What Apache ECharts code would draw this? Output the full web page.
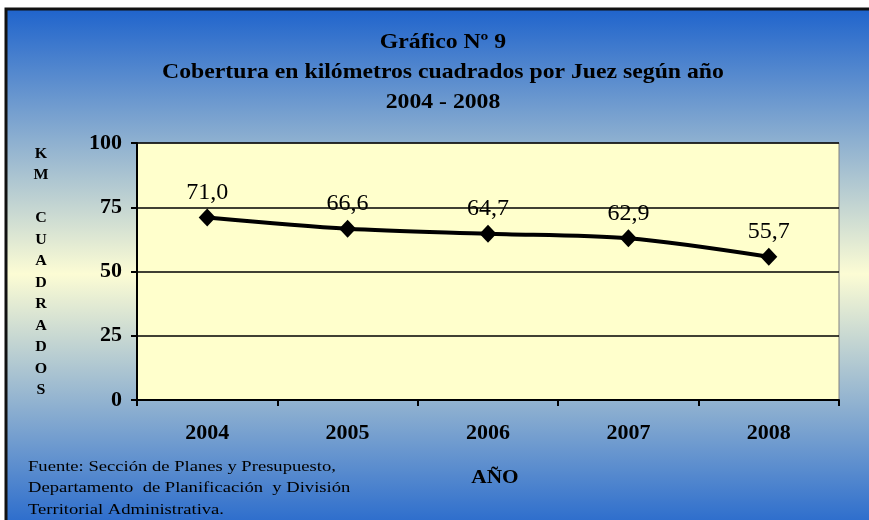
<!DOCTYPE html>
<html>
<head>
<meta charset="utf-8">
<title>Gráfico Nº 9</title>
<script src="https://cdn.jsdelivr.net/npm/echarts@6/dist/echarts.min.js"></script>
<style>
  html, body { margin: 0; padding: 0; background: #fff; }
  #chart { width: 869px; height: 520px; }
</style>
</head>
<body>
<div id="chart"></div>
<script>
const years = ['2004', '2005', '2006', '2007', '2008']
const kmPorJuez = [71.0, 66.6, 64.7, 62.9, 55.7]
const yTicks = { min: 0, max: 100, interval: 25 }

const titleLines = [
  'Gráfico Nº 9',
  'Cobertura en kilómetros cuadrados por Juez según año',
  '2004 - 2008',
]
const yName = ['K', 'M', '', 'C', 'U', 'A', 'D', 'R', 'A', 'D', 'O', 'S']
const xName = 'AÑO'
const fuente = [
  'Fuente: Sección de Planes y Presupuesto,',
  'Departamento  de Planificación  y División',
  'Territorial Administrativa.',
]

const serif = '"Liberation Serif", "Times New Roman", serif'

const chart = echarts.init(document.getElementById('chart'))

// the source image is a bit stretched sideways, so texts get a scaleX
const option = {
  backgroundColor: '#fff',
  animation: false,
  graphic: [
    {
      type: 'rect',
      z: -10,
      shape: { x: 6, y: 9, width: 880, height: 530 },
      style: {
        fill: new echarts.graphic.LinearGradient(0, 0, 0, 1, [
          { offset: 0, color: '#1e63cc' },
          { offset: 0.5, color: '#fcfcd4' },
          { offset: 1, color: '#1e63cc' },
        ]),
        stroke: '#111',
        lineWidth: 3,
      },
    },
    {
      type: 'text',
      x: 443,
      y: 28,
      scaleX: 1.13,
      style: {
        text: titleLines.join('\n'),
        font: 'bold 21px ' + serif,
        lineHeight: 30,
        fill: '#000',
        textAlign: 'center',
      },
    },
    {
      type: 'text',
      x: 41,
      y: 143,
      scaleX: 1.1,
      style: {
        text: yName.join('\n'),
        font: 'bold 14.5px ' + serif,
        lineHeight: 21.5,
        fill: '#000',
        textAlign: 'center',
      },
    },
    {
      type: 'text',
      x: 495,
      y: 469,
      scaleX: 1.12,
      style: {
        text: xName,
        font: 'bold 19px ' + serif,
        fill: '#000',
        textAlign: 'center',
      },
    },
    {
      type: 'text',
      x: 28,
      y: 456,
      scaleX: 1.2,
      style: {
        text: fuente.join('\n'),
        font: '15.5px ' + serif,
        lineHeight: 21.5,
        fill: '#000',
      },
    },
  ],
  grid: {
    left: 137,
    right: 30,
    top: 143,
    bottom: 120,
    show: true,
    backgroundColor: '#ffffcc',
    borderColor: '#808080',
    borderWidth: 1,
  },
  xAxis: {
    type: 'category',
    data: years,
    boundaryGap: true,
    axisLine: { lineStyle: { color: '#000', width: 2 } },
    axisTick: { show: true, length: 6, lineStyle: { color: '#000', width: 2 } },
    axisLabel: {
      color: '#000',
      fontFamily: serif,
      fontWeight: 'bold',
      fontSize: 22,
      margin: 22,
    },
  },
  yAxis: {
    type: 'value',
    min: yTicks.min,
    max: yTicks.max,
    interval: yTicks.interval,
    axisLine: { show: true, lineStyle: { color: '#000', width: 2 } },
    axisTick: { show: true, length: 6, lineStyle: { color: '#000', width: 2 } },
    axisLabel: {
      color: '#000',
      fontFamily: serif,
      fontWeight: 'bold',
      fontSize: 22,
      margin: 15,
    },
    splitLine: { lineStyle: { color: '#000', width: 1.5 } },
  },
  series: [{
    type: 'line',
    data: kmPorJuez,
    smooth: 0.3,
    symbol: 'diamond',
    symbolSize: [17, 18],
    itemStyle: { color: '#000' },
    lineStyle: { color: '#000', width: 4 },
    label: {
      show: true,
      position: 'top',
      distance: 4,
      color: '#000',
      fontFamily: serif,
      fontSize: 24,
      formatter: (p) => p.value.toFixed(1).replace('.', ','),
    },
  }],
}

chart.setOption(option)
</script>
</body>
</html>
